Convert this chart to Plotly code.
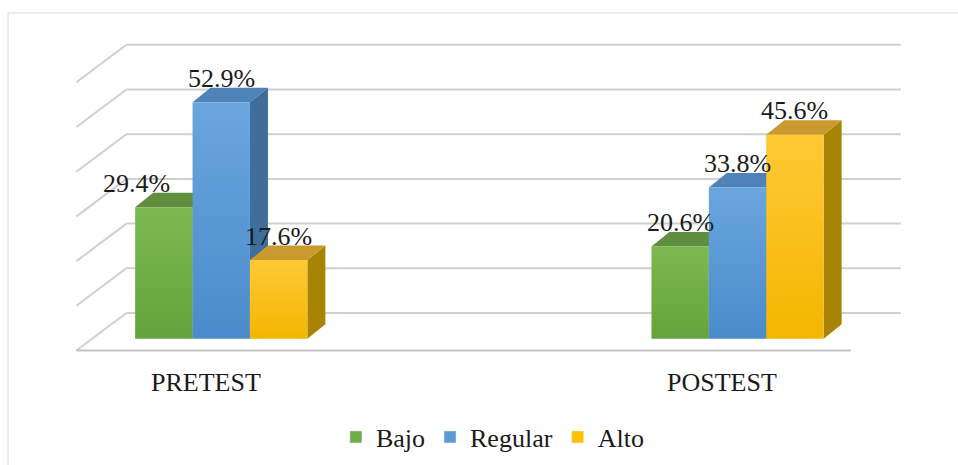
import plotly.graph_objects as go

# ---------------- data ----------------
categories = ["PRETEST", "POSTEST"]
series_names = ["Bajo", "Regular", "Alto"]
bajo = [29.4, 20.6]
regular = [52.9, 33.8]
alto = [17.6, 45.6]
grid_ticks = [0, 10, 20, 30, 40, 50, 60]

series_values = [bajo, regular, alto]

# ---------------- styles ----------------
FONT = "Liberation Serif, Times New Roman, serif"
front_top = ["#7DB950", "#6AA6DE", "#FFC935"]
front_bot = ["#66A23B", "#4A8BCB", "#F3B600"]
top_col = ["#5F8E3E", "#4F82B8", "#C99A2E"]
side_col = ["#4E7A32", "#3F6D9C", "#A88405"]
legend_col = ["#70AD47", "#5B9BD5", "#FFC000"]
GRID = "#CFCFCF"

W, H = 958, 465
# pixel geometry of the pseudo-3D projection
X0_PX, CAT_PX = 205.5, 516.3          # pixel x of category 0 (front plane) and category spacing
Y0_PX, PX_PER_UNIT = 350.5, 4.47      # pixel y of value 0 (front plane) and px per % unit
DEPTH_DX_PX, DEPTH_DY_PX = 50.0, 37.5 # full floor depth offset
BAR_Z = 0.315                         # depth of bar front faces (fraction of floor)
BAR_DX_PX, BAR_DY_PX = 18.0, 14.5     # bar depth offset
BAR_W_PX = 57.4

xr = [-X0_PX / CAT_PX, (W - X0_PX) / CAT_PX]
yr = [(Y0_PX - H) / PX_PER_UNIT, Y0_PX / PX_PER_UNIT]

dxu = lambda px: px / CAT_PX
dyu = lambda px: px / PX_PER_UNIT

DXF, DYF = dxu(DEPTH_DX_PX), dyu(DEPTH_DY_PX)
FX, FY = BAR_Z * DXF, BAR_Z * DYF
BDX, BDY = dxu(BAR_DX_PX), dyu(BAR_DY_PX)
BW = dxu(BAR_W_PX)
X_LO, X_HI = -0.25, 1.25

fig = go.Figure()

# legend-only traces
for j, name in enumerate(series_names):
    fig.add_trace(go.Bar(x=[None], y=[None], name=name, marker_color=legend_col[j],
                         showlegend=True))

# bar faces
for i, cat in enumerate(categories):
    for j in range(3):
        v = series_values[j][i]
        xl = i + (j - 1.5) * BW + FX
        xrr = xl + BW
        b = FY
        t = v + FY
        side_x = [xrr, xrr + BDX, xrr + BDX, xrr, xrr]
        side_y = [b, b + BDY, t + BDY, t, b]
        top_x = [xl, xrr, xrr + BDX, xl + BDX, xl]
        top_y = [t, t, t + BDY, t + BDY, t]
        fr_x = [xl, xrr, xrr, xl, xl]
        fr_y = [b, b, t, t, b]
        fig.add_trace(go.Scatter(x=side_x, y=side_y, fill="toself", mode="lines",
                                 line=dict(width=0), fillcolor=side_col[j],
                                 showlegend=False, hoverinfo="skip"))
        fig.add_trace(go.Scatter(x=top_x, y=top_y, fill="toself", mode="lines",
                                 line=dict(width=0), fillcolor=top_col[j],
                                 showlegend=False, hoverinfo="skip"))
        fig.add_trace(go.Scatter(x=fr_x, y=fr_y, fill="toself", mode="lines",
                                 line=dict(width=0),
                                 fillgradient=dict(type="vertical",
                                                   colorscale=[[0, front_bot[j]], [1, front_top[j]]]),
                                 showlegend=False, hoverinfo="skip"))

shapes = []
# back wall gridlines and side wall lines
for g in grid_ticks:
    shapes.append(dict(type="line", xref="x", yref="y", layer="below",
                       x0=X_LO + DXF, x1=X_HI + DXF, y0=g + DYF, y1=g + DYF,
                       line=dict(color=GRID, width=2)))
    shapes.append(dict(type="line", xref="x", yref="y", layer="below",
                       x0=X_LO, x1=X_LO + DXF, y0=g, y1=g + DYF,
                       line=dict(color=GRID, width=2)))
# floor front edge
shapes.append(dict(type="line", xref="x", yref="y", layer="below",
                   x0=X_LO, x1=X_HI, y0=0, y1=0,
                   line=dict(color="#C4C4C4", width=2)))
# chart border
shapes.append(dict(type="rect", xref="paper", yref="paper", layer="below",
                   x0=8 / W, x1=1.02, y0=-0.02, y1=1 - 13 / H,
                   line=dict(color="#DADADA", width=1)))

annotations = []
label_xshift = {(0, 0): -27}
for i in range(len(categories)):
    for j in range(3):
        v = series_values[j][i]
        cx = i + (j - 1) * BW + FX
        annotations.append(dict(x=cx, y=v + FY, xref="x", yref="y", text=f"{v:.1f}%",
                                showarrow=False, yshift=24,
                                xshift=label_xshift.get((i, j), 0),
                                font=dict(family=FONT, size=26, color="#1a1a1a")))
for i, cat in enumerate(categories):
    annotations.append(dict(x=i, y=0, xref="x", yref="y", text=cat, showarrow=False,
                            yshift=-32, font=dict(family=FONT, size=26, color="#1a1a1a")))

fig.update_layout(
    width=W, height=H,
    margin=dict(l=0, r=0, t=0, b=0),
    paper_bgcolor="white", plot_bgcolor="white",
    xaxis=dict(range=xr, visible=False, fixedrange=True),
    yaxis=dict(range=yr, visible=False, fixedrange=True),
    shapes=shapes, annotations=annotations,
    showlegend=True,
    legend=dict(orientation="h", x=0.514, xanchor="center", y=1 - 437 / H, yanchor="middle",
                font=dict(family=FONT, size=26, color="#1a1a1a"),
                bgcolor="rgba(0,0,0,0)", itemclick=False, itemdoubleclick=False),
)

fig.write_html("out.html")
